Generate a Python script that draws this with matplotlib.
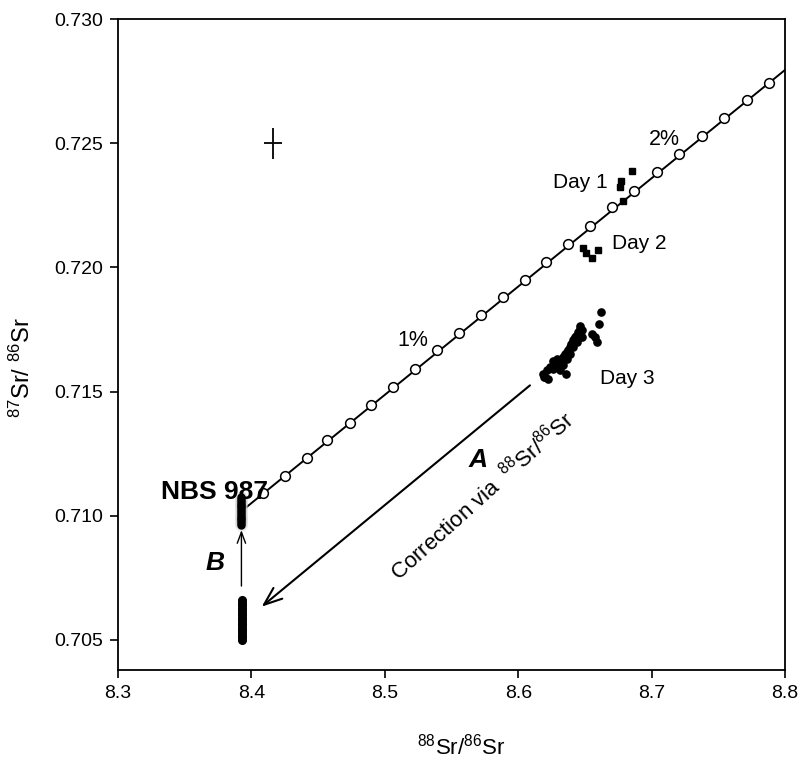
import matplotlib
matplotlib.use("Agg")
import matplotlib.pyplot as plt
import numpy as np

plt.rcParams["font.family"] = ["Liberation Sans", "DejaVu Sans"]
plt.rcParams["mathtext.default"] = "regular"

# Fractionation line (open circles, steps of 0.1 %/amu)
frac_x = [8.4089, 8.4251, 8.4413, 8.4570, 8.4737, 8.4900, 8.5062, 8.5225,
          8.5388, 8.5555, 8.5718, 8.5883, 8.6050, 8.6208, 8.6373, 8.6538,
          8.6705, 8.6870, 8.7042, 8.7207, 8.7375, 8.7542, 8.7712, 8.7882]
frac_y = [0.71090, 0.71159, 0.71233, 0.71304, 0.71375, 0.71447, 0.71518, 0.71589,
          0.71666, 0.71735, 0.71809, 0.71880, 0.71950, 0.72023, 0.72094, 0.72166,
          0.72242, 0.72309, 0.72385, 0.72456, 0.72530, 0.72601, 0.72673, 0.72744]
line_x = [8.392, 8.80]
line_y = [0.71016, 0.72795]

# Measured runs
day1_x = [8.6768, 8.6763, 8.6855, 8.6783]
day1_y = [0.72349, 0.72322, 0.72389, 0.72269]
day2_x = [8.6488, 8.6508, 8.6555, 8.6600]
day2_y = [0.72078, 0.72057, 0.72038, 0.72070]
day3_x = [8.6621, 8.6606, 8.6551, 8.6576, 8.6593, 8.6463, 8.6476, 8.6451, 8.6426,
          8.6413, 8.6401, 8.6388, 8.6376, 8.6364, 8.6351, 8.6338, 8.6313, 8.6289,
          8.6263, 8.6276, 8.6301, 8.6326, 8.6263, 8.6214, 8.6188, 8.6201, 8.6226,
          8.6358, 8.6413, 8.6438, 8.6476, 8.6388, 8.6364, 8.6338, 8.6313, 8.6450,
          8.6420, 8.6395, 8.6350, 8.6300, 8.6240, 8.6190, 8.6460, 8.6435]
day3_y = [0.71820, 0.71773, 0.71733, 0.71719, 0.71699, 0.71762, 0.71746, 0.71726,
          0.71719, 0.71706, 0.71693, 0.71679, 0.71668, 0.71659, 0.71650, 0.71639,
          0.71625, 0.71632, 0.71625, 0.71612, 0.71605, 0.71619, 0.71592, 0.71585,
          0.71572, 0.71558, 0.71552, 0.71572, 0.71679, 0.71699, 0.71719, 0.71652,
          0.71632, 0.71605, 0.71585, 0.71740, 0.71710, 0.71690, 0.71640, 0.71620,
          0.71600, 0.71560, 0.71750, 0.71725]

# NBS 987 corrected and uncorrected
nbs_x = 8.392
nbs_y = [0.70962, 0.70970, 0.70978, 0.70985, 0.70992, 0.71000, 0.71008, 0.71015,
         0.71022, 0.71030, 0.71038, 0.71045, 0.71052, 0.71060, 0.71068, 0.71075]
raw_y = [0.70500, 0.70510, 0.70520, 0.70530, 0.70540, 0.70550, 0.70560, 0.70570,
         0.70580, 0.70590, 0.70600, 0.70610, 0.70620, 0.70630, 0.70640, 0.70650,
         0.70660]

# 2 sigma cross
err_x, err_y = 8.4162, 0.7250
err_dx, err_dy = 0.0067, 0.00062

fig = plt.figure(figsize=(8.04, 7.61), dpi=100)
ax = fig.add_axes([0.1468, 0.1196, 0.8296, 0.8554])

ax.plot(line_x, line_y, "k-", lw=1.4, zorder=2)
ax.plot(frac_x, frac_y, "o", ms=7, mfc="white", mec="black", mew=1.1, zorder=3)

ax.plot(day1_x, day1_y, "s", color="black", ms=4.5, zorder=4)
ax.plot(day2_x, day2_y, "s", color="black", ms=4.5, zorder=4)
ax.plot(day3_x, day3_y, "o", color="black", ms=5.2, zorder=4)

ax.plot([nbs_x] * len(nbs_y), nbs_y, "o", color="#c8c8c8", ms=9, alpha=0.35,
        mew=0, zorder=3)
ax.plot([nbs_x] * len(nbs_y), nbs_y, "o", color="black", ms=5, zorder=4)
ax.plot([nbs_x + 0.001] * len(raw_y), raw_y, "o", color="black", ms=5.5, zorder=4)

ax.errorbar([err_x], [err_y], xerr=[err_dx], yerr=[err_dy], fmt="none",
            ecolor="black", elinewidth=1.3, capsize=0)

# Arrows
ax.annotate("", xy=(8.4077, 0.70634), xytext=(8.6088, 0.71525),
            arrowprops=dict(arrowstyle="->,head_length=1.3,head_width=0.5",
                            color="black", lw=1.5, shrinkA=0, shrinkB=0))
ax.annotate("", xy=(8.3925, 0.70942), xytext=(8.3925, 0.70717),
            arrowprops=dict(arrowstyle="->,head_length=0.8,head_width=0.3",
                            color="black", lw=1.0, shrinkA=0, shrinkB=0))

# Labels
ax.text(8.372, 0.71095, "NBS 987", fontsize=19, fontweight="bold",
        ha="center", va="center")
ax.text(8.6463, 0.72341, "Day 1", fontsize=15, ha="center", va="center")
ax.text(8.6703, 0.72095, "Day 2", fontsize=15, ha="left", va="center")
ax.text(8.6613, 0.71553, "Day 3", fontsize=15, ha="left", va="center")
ax.text(8.5211, 0.71706, "1%", fontsize=15.5, ha="center", va="center")
ax.text(8.7093, 0.72514, "2%", fontsize=15.5, ha="center", va="center")
ax.text(8.5699, 0.71224, "A", fontsize=19, fontweight="bold", style="italic",
        ha="center", va="center")
ax.text(8.3727, 0.70809, "B", fontsize=19, fontweight="bold", style="italic",
        ha="center", va="center")
ax.text(8.5730, 0.71080, r"Correction via  $^{88}$Sr/$^{86}$Sr", fontsize=16,
        rotation=42, rotation_mode="anchor", ha="center", va="center")

ax.set_xlim(8.3, 8.8)
ax.set_ylim(0.70379, 0.730)
ax.set_xticks([8.3, 8.4, 8.5, 8.6, 8.7, 8.8])
ax.set_yticks([0.705, 0.710, 0.715, 0.720, 0.725, 0.730])
ax.set_xticklabels(["8.3", "8.4", "8.5", "8.6", "8.7", "8.8"])
ax.set_yticklabels(["0.705", "0.710", "0.715", "0.720", "0.725", "0.730"])
ax.tick_params(direction="out", length=6, width=1.2, labelsize=14, pad=5)
for s in ax.spines.values():
    s.set_linewidth(1.3)

ax.set_xlabel(r"$^{88}$Sr/$^{86}$Sr", fontsize=16)
ax.set_ylabel(r"$^{87}$Sr/ $^{86}$Sr", fontsize=17)
ax.xaxis.set_label_coords(0.514, -0.098)
ax.yaxis.set_label_coords(-0.125, 0.465)

fig.savefig("out.png", dpi=100)
